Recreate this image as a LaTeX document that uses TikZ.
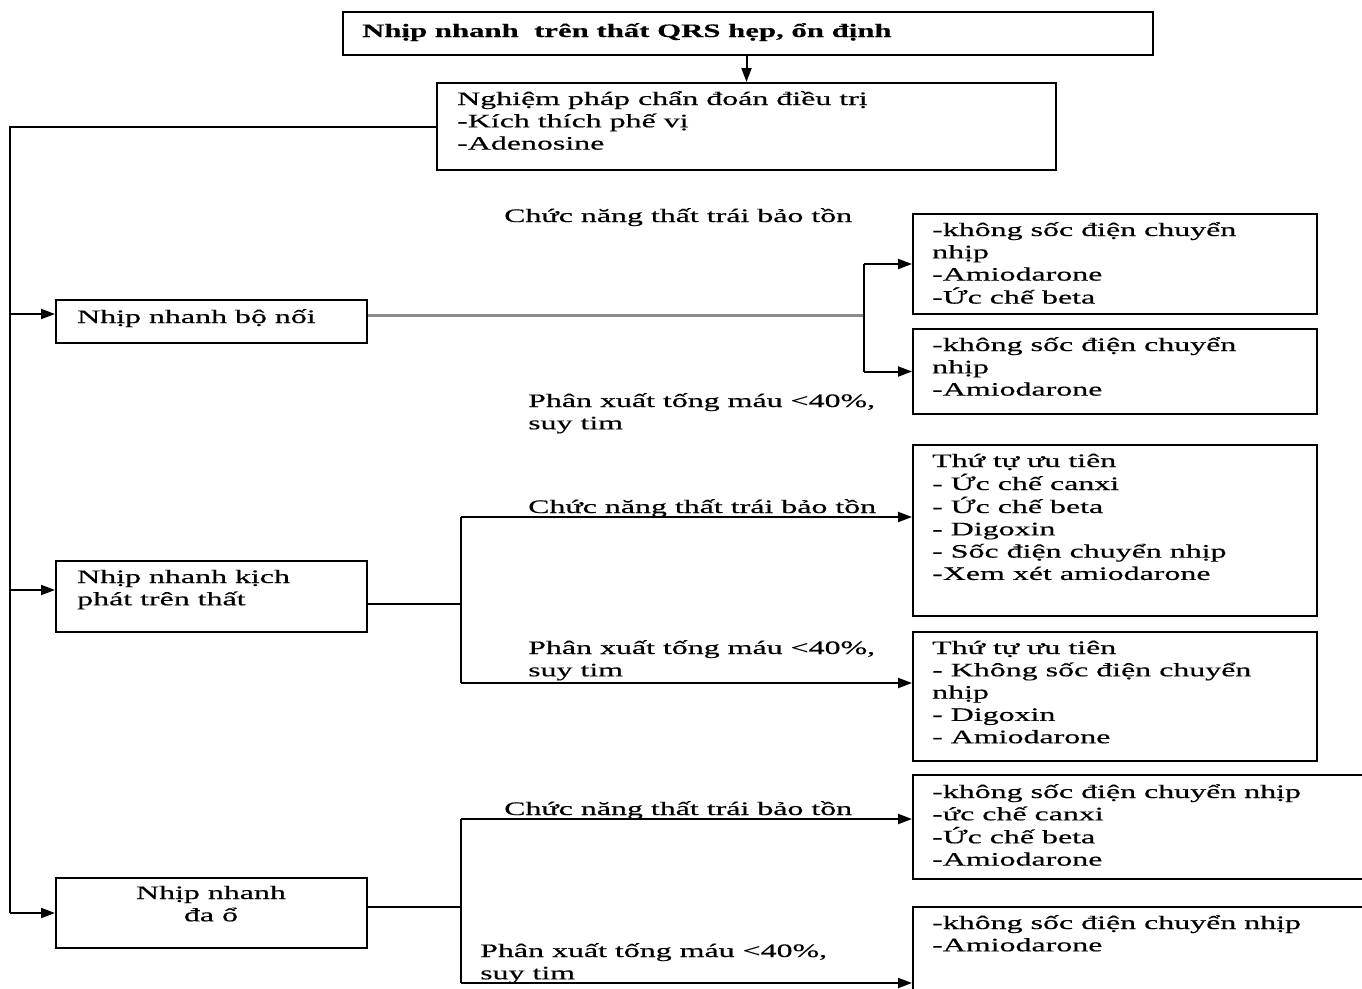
\documentclass[tikz,border=0pt]{standalone}
\usepackage{fontspec}
\setmainfont{Liberation Serif}[FakeStretch=1.68, FakeBold=0.5, BoldFeatures={FakeStretch=1.62, FakeBold=0.4}]
\usetikzlibrary{arrows.meta}
\newcommand\ml[1]{\begin{tabular}[t]{@{}l@{}}#1\end{tabular}}
\newcommand\mc[1]{\begin{tabular}[t]{@{}c@{}}#1\end{tabular}}
\begin{document}
\begin{tikzpicture}[x=1pt,y=-1pt,
  box/.style={draw, line width=2pt, rectangle, inner sep=0pt, anchor=north west},
  txt/.style={anchor=base west, inner sep=0pt, font=\fontsize{19}{22.3}\selectfont},
  conn/.style={line width=2pt},
  arr/.style={line width=2pt, -{Triangle[length=14pt,width=10pt]}},
  grayconn/.style={line width=3pt, draw=black!45}]
\useasboundingbox (0,0) rectangle (1362,988);

% boxes
\node[box, minimum width=810, minimum height=43] (top) at (342,11) {};
\node[box, minimum width=619, minimum height=87] (diag) at (436,82) {};
\node[box, minimum width=311, minimum height=43] (bA) at (55,299) {};
\node[box, minimum width=404, minimum height=100] (a1) at (912,213) {};
\node[box, minimum width=404, minimum height=85] (a2) at (912,328) {};
\node[box, minimum width=311, minimum height=71] (bB) at (55,560) {};
\node[box, minimum width=404, minimum height=171] (b1) at (912,444) {};
\node[box, minimum width=404, minimum height=129] (b2) at (912,631) {};
\node[box, minimum width=311, minimum height=70] (bC) at (55,877) {};
\node[box, minimum width=470, minimum height=104] (c1) at (912,774) {};
\node[box, minimum width=470, minimum height=110] (c2) at (912,906) {};

% box texts
\node[txt, font=\fontsize{19}{22.3}\selectfont\bfseries] (ttop) at (362,37) {Nhịp nhanh\ \ trên thất QRS hẹp, ổn định};
\node[txt] (tdiag) at (457,105) {\ml{Nghiệm pháp chẩn đoán điều trị\\-Kích thích phế vị\\-Adenosine}};
\node[txt] (tA) at (77,323) {Nhịp nhanh bộ nối};
\node[txt] (ta1) at (932,236) {\ml{-không sốc điện chuyển\\nhịp\\-Amiodarone\\-Ức chế beta}};
\node[txt] (ta2) at (932,351) {\ml{-không sốc điện chuyển\\nhịp\\-Amiodarone}};
\node[txt] (tB) at (77,583) {\ml{Nhịp nhanh kịch\\phát trên thất}};
\node[txt] (tb1) at (932,467) {\ml{Thứ tự ưu tiên\\- Ức chế canxi\\- Ức chế beta\\- Digoxin\\- Sốc điện chuyển nhịp\\-Xem xét amiodarone}};
\node[txt] (tb2) at (932,654) {\ml{Thứ tự ưu tiên\\- Không sốc điện chuyển\\nhịp\\- Digoxin\\- Amiodarone}};
\node[txt, anchor=base] (tC) at (211,899) {\mc{Nhịp nhanh\\đa ổ}};
\node[txt] (tc1) at (932,798) {\ml{-không sốc điện chuyển nhịp\\-ức chế canxi\\-Ức chế beta\\-Amiodarone}};
\node[txt] (tc2) at (932,929) {\ml{-không sốc điện chuyển nhịp\\-Amiodarone}};

% branch labels
\node[txt] (l1) at (504,222) {Chức năng thất trái bảo tồn};
\node[txt] (l2) at (528,407) {\ml{Phân xuất tống máu <40\%,\\suy tim}};
\node[txt] (l3) at (528,513) {Chức năng thất trái bảo tồn};
\node[txt] (l4) at (528,654) {\ml{Phân xuất tống máu <40\%,\\suy tim}};
\node[txt] (l5) at (504,815) {Chức năng thất trái bảo tồn};
\node[txt] (l6) at (480,957) {\ml{Phân xuất tống máu <40\%,\\suy tim}};

% junction points
\coordinate (trunk) at (10,0);
\coordinate (sA) at (864,0);
\coordinate (sB) at (461,0);
\coordinate (sC) at (461,0);
\coordinate (inA) at ([yshift=7.5pt]bA.west);
\coordinate (inB) at ([yshift=6.5pt]bB.west);
\coordinate (outA) at ([yshift=6.5pt]bA.east);
\coordinate (outB) at ([yshift=-7.5pt]bB.east);
\coordinate (outC) at ([yshift=6pt]bC.east);
\coordinate (inb1) at ([yshift=13.5pt]b1.west);
\coordinate (inb2) at ([yshift=13.5pt]b2.west);
\coordinate (inc1) at ([yshift=8pt]c1.west);
\coordinate (inc2) at ([yshift=-77pt]c2.north west);

% connectors
\draw[arr] (diag.north |- top.south) -- (diag.north);
\draw[conn] (diag.west) -- (diag.west -| trunk) -- (trunk |- bC.west);
\draw[arr] (trunk |- bC.west) -- (bC.west);
\draw[arr] (trunk |- inA) -- (inA);
\draw[arr] (trunk |- inB) -- (inB);

\draw[grayconn] (outA) -- (outA -| sA);
\draw[conn] (sA |- a1.west) -- (sA |- a2.west);
\draw[arr] (sA |- a1.west) -- (a1.west);
\draw[arr] (sA |- a2.west) -- (a2.west);

\draw[conn] (outB) -- (outB -| sB);
\draw[conn] (sB |- inb1) -- (sB |- inb2);
\draw[arr] (sB |- inb1) -- (inb1);
\draw[arr] (sB |- inb2) -- (inb2);

\draw[conn] (outC) -- (outC -| sC);
\draw[conn] (sC |- inc1) -- (sC |- inc2);
\draw[arr] (sC |- inc1) -- (inc1);
\draw[arr] (sC |- inc2) -- (inc2);
\end{tikzpicture}
\end{document}
